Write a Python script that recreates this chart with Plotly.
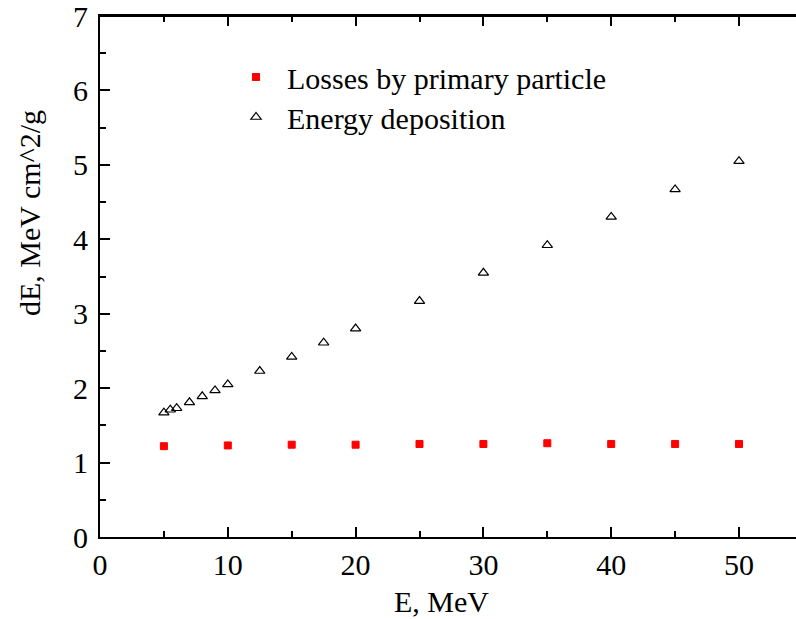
import plotly.graph_objects as go

# Data
energy_dep_x = [5, 5.5, 6, 7, 8, 9, 10, 12.5, 15, 17.5, 20, 25, 30, 35, 40, 45, 50]
energy_dep_y = [1.67, 1.71, 1.73, 1.81, 1.89, 1.97, 2.05, 2.23, 2.42, 2.61, 2.80, 3.17, 3.55, 3.92, 4.30, 4.67, 5.05]
losses_x = [5, 10, 15, 20, 25, 30, 35, 40, 45, 50]
losses_y = [1.22, 1.23, 1.24, 1.24, 1.25, 1.25, 1.26, 1.25, 1.25, 1.25]

FONT = "Liberation Serif"
FS = 30

fig = go.Figure()
fig.add_trace(go.Scatter(
    x=losses_x, y=losses_y, mode="markers", name="Losses by primary particle",
    marker=dict(symbol="square", size=7, color="#ff0000", line=dict(width=1, color="#ff0000")),
    legend="legend", showlegend=True,
))
fig.add_trace(go.Scatter(
    x=energy_dep_x, y=energy_dep_y, mode="markers", name="Energy deposition",
    marker=dict(symbol="triangle-up-open", size=9, color="black", line=dict(width=1.2, color="black")),
    legend="legend2", showlegend=True,
))

axis_common = dict(
    showline=True, linecolor="black", linewidth=2,
    ticks="inside", ticklen=10, tickwidth=2, tickcolor="black",
    showgrid=False, zeroline=False, automargin=False, ticklabeloverflow="allow",
    tickfont=dict(family=FONT, size=FS, color="black"),
)
minor_x = dict(dtick=5, ticks="inside", ticklen=6, tickwidth=2, tickcolor="black")

X_RANGE = [0, 54.46]
Y_RANGE = [0, 7]

fig.update_layout(
    template="none",
    xaxis=dict(range=X_RANGE, dtick=10, tick0=0, mirror="ticks", minor=minor_x, **axis_common),
    yaxis=dict(range=Y_RANGE, dtick=1, tick0=0, mirror=False, ticklabelstandoff=4,
               minor=dict(dtick=0.5, ticks="inside", ticklen=6, tickwidth=2, tickcolor="black"),
               **axis_common),
)

def px2paper(px, py):
    return (px - 100) / 696, (537 - py) / 521

legend_common = dict(font=dict(family=FONT, size=FS, color="black"), bgcolor="rgba(0,0,0,0)",
                     xref="paper", yref="paper", xanchor="left", yanchor="middle", itemwidth=52)
lx1, ly1 = px2paper(225, 77)
lx2, ly2 = px2paper(225, 117)
tx, ty = px2paper(30, 213)
ex, ey = px2paper(441, 601)
top_helper_y = px2paper(0, 4)[1]
fig.update_layout(
    width=796, height=619,
    margin=dict(l=100, r=0, t=16, b=82),
    paper_bgcolor="white", plot_bgcolor="white",
    showlegend=True,
    legend=dict(x=lx1, y=ly1, **legend_common),
    legend2=dict(x=lx2, y=ly2, **legend_common),
    shapes=[
        dict(type="line", xref="paper", yref="paper", x0=0, x1=1, y0=1, y1=1,
             line=dict(color="black", width=2), layer="above"),
        dict(type="line", xref="paper", yref="paper", x0=0, x1=1, y0=top_helper_y, y1=top_helper_y,
             line=dict(color="white", width=2), layer="below"),
    ],
    annotations=[
        dict(text="dE, MeV cm^2/g", textangle=-90, x=tx, y=ty, xref="paper", yref="paper",
             xanchor="center", yanchor="middle",
             showarrow=False, font=dict(family=FONT, size=FS, color="black")),
        dict(text="E, MeV", x=ex, y=ey, xref="paper", yref="paper",
             xanchor="center", yanchor="middle",
             showarrow=False, font=dict(family=FONT, size=FS, color="black")),
    ],
)

fig.write_html("out.html", config={"displayModeBar": False})
